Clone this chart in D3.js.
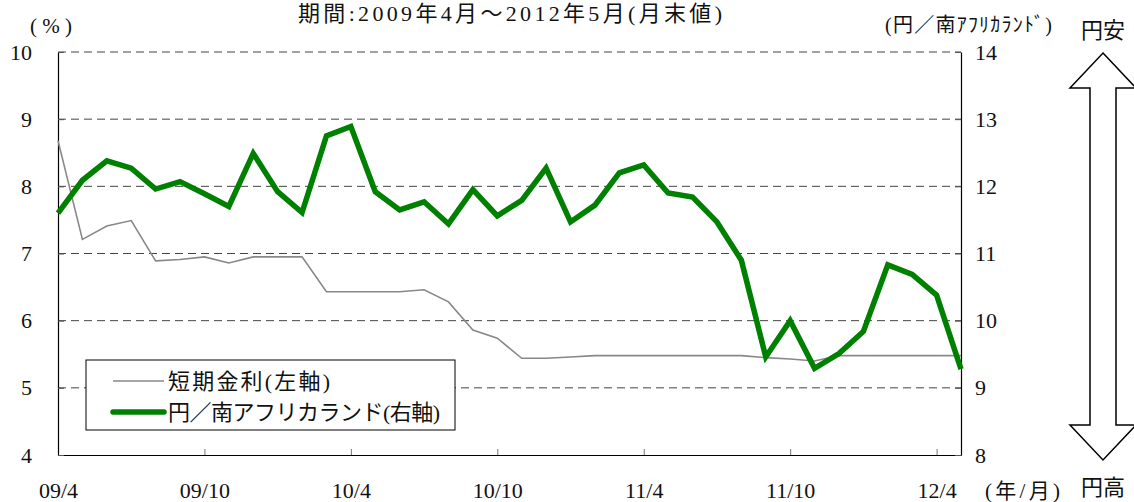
<!DOCTYPE html>
<html>
<head>
<meta charset="utf-8">
<script src="https://cdn.jsdelivr.net/npm/d3@7"></script>
<style>
  body { margin: 0; background: #fff; }
  svg text { font-family: "Liberation Serif", "Noto Sans CJK JP", serif; fill: #111; }
</style>
</head>
<body>
<div id="chart"></div>
<script>
// months 2009/4 .. 2012/5
const months = [
  "2009-04","2009-05","2009-06","2009-07","2009-08","2009-09","2009-10","2009-11","2009-12",
  "2010-01","2010-02","2010-03","2010-04","2010-05","2010-06","2010-07","2010-08","2010-09",
  "2010-10","2010-11","2010-12","2011-01","2011-02","2011-03","2011-04","2011-05","2011-06",
  "2011-07","2011-08","2011-09","2011-10","2011-11","2011-12","2012-01","2012-02","2012-03",
  "2012-04","2012-05"
];
// short-term interest rate (left axis, %)
const rate = [
  8.68, 7.21, 7.41, 7.49, 6.89, 6.91, 6.95, 6.86, 6.95, 6.95,
  6.95, 6.43, 6.43, 6.43, 6.43, 6.46, 6.28, 5.86, 5.74, 5.44,
  5.44, 5.46, 5.48, 5.48, 5.48, 5.48, 5.48, 5.48, 5.48, 5.45,
  5.43, 5.40, 5.48, 5.48, 5.48, 5.48, 5.48, 5.48
];
// yen per rand (right axis)
const zar = [
  11.60, 12.09, 12.38, 12.27, 11.96, 12.07, 11.89, 11.70, 12.49, 11.92,
  11.61, 12.75, 12.89, 11.92, 11.65, 11.77, 11.44, 11.95, 11.56, 11.79,
  12.27, 11.47, 11.72, 12.20, 12.32, 11.90, 11.84, 11.47, 10.90, 9.46,
  10.00, 9.29, 9.51, 9.84, 10.83, 10.69, 10.38, 9.28
];
const leftTicks = [4, 5, 6, 7, 8, 9, 10];
const rightTicks = [8, 9, 10, 11, 12, 13, 14];
const xTicks = ["2009-04","2009-10","2010-04","2010-10","2011-04","2011-10","2012-04"];
const seriesNames = ["短期金利(左軸)", "円／南アフリカランド(右軸)"];

const width = 1134, height = 502;
const plotL = 58, plotR = 961, plotT = 52, plotB = 455;

const svg = d3.select("#chart")
  .append("svg")
  .attr("width", width)
  .attr("height", height);

const x = d3.scalePoint().domain(months).range([plotL, plotR]);
const yL = d3.scaleLinear().domain([4, 10]).range([plotB, plotT]);
const yR = d3.scaleLinear().domain([8, 14]).range([plotB, plotT]);

// dashed gridlines
svg.append("g")
  .selectAll("line")
  .data(leftTicks.filter(d => d > 4))
  .join("line")
  .attr("x1", plotL).attr("x2", plotR)
  .attr("y1", d => yL(d)).attr("y2", d => yL(d))
  .attr("stroke", "#444")
  .attr("stroke-width", 1)
  .attr("stroke-dasharray", "8,5");

// axes
const fmt = m => m.slice(2, 4) + "/" + (+m.slice(5));

const gx = svg.append("g")
  .attr("transform", `translate(0,${plotB})`)
  .call(d3.axisBottom(x).tickValues(xTicks).tickFormat(fmt).tickSize(-6).tickSizeOuter(0).tickPadding(27));

const gl = svg.append("g")
  .attr("transform", `translate(${plotL},0)`)
  .call(d3.axisLeft(yL).tickValues(leftTicks).tickFormat(d3.format("d")).tickSize(-6).tickSizeOuter(0).tickPadding(26));

const gr = svg.append("g")
  .attr("transform", `translate(${plotR},0)`)
  .call(d3.axisRight(yR).tickValues(rightTicks).tickFormat(d3.format("d")).tickSize(-6).tickSizeOuter(0).tickPadding(14));

[gx, gl, gr].forEach(g => {
  g.select(".domain").attr("stroke", "#000").attr("stroke-width", 1.2);
  g.selectAll(".tick line").attr("stroke", "#555");
  g.selectAll(".tick text").style("font-size", "22px").attr("fill", "#111");
});
gx.selectAll(".tick line").attr("stroke", "#777");

// lines
const rateLine = d3.line().x((d, i) => x(months[i])).y(d => yL(d));
const zarLine = d3.line().x((d, i) => x(months[i])).y(d => yR(d));

svg.append("path")
  .datum(rate)
  .attr("d", rateLine)
  .attr("fill", "none")
  .attr("stroke", "#888")
  .attr("stroke-width", 1.6);

svg.append("path")
  .datum(zar)
  .attr("d", zarLine)
  .attr("fill", "none")
  .attr("stroke", "#008000")
  .attr("stroke-width", 5.5);

// legend
const legend = svg.append("g");
legend.append("rect")
  .attr("x", 86).attr("y", 360).attr("width", 369).attr("height", 70)
  .attr("fill", "#fff").attr("stroke", "#000").attr("stroke-width", 1);
const legendStyle = [
  { color: "#888", w: 1.6, y: 381, len: 162 },
  { color: "#008000", w: 5.5, y: 412, len: 272 }
];
seriesNames.forEach((name, i) => {
  const s = legendStyle[i];
  legend.append("line")
    .attr("x1", 113).attr("x2", 164)
    .attr("y1", s.y).attr("y2", s.y)
    .attr("stroke", s.color).attr("stroke-width", s.w)
    .attr("stroke-linecap", i === 1 ? "round" : "butt");
  legend.append("text")
    .attr("x", 168).attr("y", s.y)
    .attr("dy", "0.36em")
    .attr("textLength", s.len)
    .attr("lengthAdjust", "spacing")
    .style("font-size", "22px")
    .text(name);
});

// titles / unit labels
svg.append("text").attr("x", 298).attr("y", 13).attr("dy", "0.36em")
  .attr("textLength", 424).attr("lengthAdjust", "spacing")
  .style("font-size", "22px").text("期間:2009年4月～2012年5月(月末値)");
svg.append("text").attr("x", 30).attr("y", 25).attr("dy", "0.36em")
  .attr("textLength", 42).attr("lengthAdjust", "spacing")
  .style("font-size", "21px").text("(%)");
svg.append("text").attr("x", 885).attr("y", 25).attr("dy", "0.36em")
  .attr("textLength", 167).attr("lengthAdjust", "spacing")
  .style("font-size", "20px").text("(円／南ｱﾌﾘｶﾗﾝﾄﾞ)");
svg.append("text").attr("x", 985).attr("y", 490).attr("dy", "0.36em")
  .attr("textLength", 75).attr("lengthAdjust", "spacing")
  .style("font-size", "21px").text("(年/月)");

// yen direction arrow
const ax = 1103, tipT = 53, tipB = 460, headH = 35, headW = 33, shaftW = 13;
const arrow = [
  [ax, tipT], [ax + headW, tipT + headH], [ax + shaftW, tipT + headH],
  [ax + shaftW, tipB - headH], [ax + headW, tipB - headH], [ax, tipB],
  [ax - headW, tipB - headH], [ax - shaftW, tipB - headH],
  [ax - shaftW, tipT + headH], [ax - headW, tipT + headH]
];
svg.append("path")
  .attr("d", d3.line()(arrow) + "Z")
  .attr("fill", "#fff").attr("stroke", "#000").attr("stroke-width", 1.5);
svg.append("text").attr("x", ax).attr("y", 30).attr("dy", "0.36em")
  .attr("text-anchor", "middle").style("font-size", "22px").text("円安");
svg.append("text").attr("x", ax).attr("y", 487).attr("dy", "0.36em")
  .attr("text-anchor", "middle").style("font-size", "22px").text("円高");
</script>
</body>
</html>
